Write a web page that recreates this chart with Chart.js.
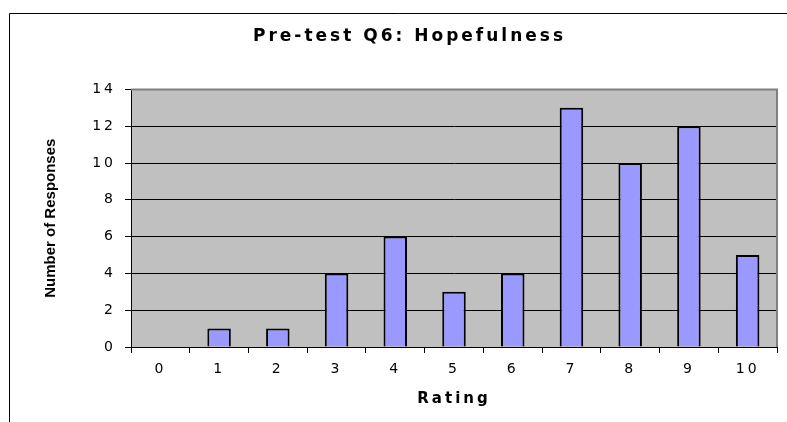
<!DOCTYPE html>
<html lang="en">
<head>
  <meta charset="UTF-8">
  <title>Pre-test Q6: Hopefulness</title>
  <style>
    html, body { margin: 0; padding: 0; background: #fff; }
    #wrap { width: 787px; height: 422px; }
  </style>
</head>
<body>
<div id="wrap">
  <canvas id="chart" width="787" height="422"></canvas>
</div>

<script src="https://cdn.jsdelivr.net/npm/chart.js"></script>

<script>
  const ratings = ['0', '1', '2', '3', '4', '5', '6', '7', '8', '9', '10'];
  const responses = [0, 1, 1, 4, 6, 3, 4, 13, 10, 12, 5];
  const yTicks = [0, 2, 4, 6, 8, 10, 12, 14];
  const yTitle = 'Number of Responses';

  // the source chart has wide lettering, so a wide face plus a little spacing
  const WIDE = '"DejaVu Sans", Verdana, sans-serif';
  const ARIAL = 'Arial, "Liberation Sans", sans-serif';
  const SPACING = '3px';

  // grey plot area, outer frame and the vertical axis title
  const frame = {
    id: 'frame',
    beforeDraw(chart) {
      const { ctx, chartArea: a } = chart;
      ctx.save();
      ctx.fillStyle = '#c0c0c0';
      ctx.fillRect(a.left, a.top, a.right - a.left, a.bottom - a.top);
      ctx.strokeStyle = '#000';
      ctx.lineWidth = 1;
      ctx.beginPath();
      ctx.moveTo(9.5, 422);
      ctx.lineTo(9.5, 13.5);
      ctx.lineTo(787, 13.5);
      ctx.stroke();
      ctx.restore();
      ctx.letterSpacing = SPACING;
    },
    afterDatasetsDraw(chart) {
      const { ctx, chartArea: a } = chart;
      ctx.save();
      ctx.strokeStyle = '#808080';
      ctx.lineWidth = 2;
      ctx.beginPath();
      ctx.moveTo(a.left, a.top);
      ctx.lineTo(a.right, a.top);
      ctx.lineTo(a.right, a.bottom);
      ctx.stroke();
      ctx.restore();
    },
    afterDraw(chart) {
      const { ctx, chartArea: a } = chart;
      ctx.save();
      ctx.letterSpacing = '0px';
      ctx.font = 'bold 15px ' + ARIAL;
      ctx.fillStyle = '#000';
      ctx.textAlign = 'center';
      ctx.textBaseline = 'middle';
      ctx.translate(51, (a.top + a.bottom) / 2);
      ctx.rotate(-Math.PI / 2);
      ctx.fillText(yTitle, 0, 0);
      ctx.restore();
    }
  };

  new Chart(document.getElementById('chart'), {
    type: 'bar',
    data: {
      labels: ratings,
      datasets: [{
        data: responses,
        backgroundColor: '#9999ff',
        borderColor: '#000',
        borderWidth: 2,
        categoryPercentage: 0.4,
        barPercentage: 1
      }]
    },
    options: {
      responsive: false,
      animation: false,
      devicePixelRatio: 1,
      layout: { padding: { left: 42, right: 10, top: 0, bottom: 0 } },
      plugins: {
        legend: { display: false },
        tooltip: { enabled: false },
        title: {
          display: true,
          text: 'Pre-test Q6: Hopefulness',
          color: '#000',
          font: { family: WIDE, size: 17, weight: 'bold' },
          padding: { top: 26, bottom: 43 }
        }
      },
      scales: {
        x: {
          offset: true,
          grid: { offset: true, drawOnChartArea: false, drawTicks: true, tickLength: 6, color: '#000' },
          border: { color: '#000', width: 1 },
          ticks: { color: '#000', font: { family: WIDE, size: 14 }, padding: 8, maxRotation: 0 },
          title: {
            display: true,
            text: 'Rating',
            color: '#000',
            font: { family: WIDE, size: 15, weight: 'bold' },
            padding: { top: 4, bottom: 14 }
          },
          afterFit(s) { s.height = 422 - 347; }
        },
        y: {
          min: 0,
          max: 14,
          afterBuildTicks(s) { s.ticks = yTicks.map(v => ({ value: v })); },
          grid: { color: '#000', tickLength: 6, drawTicks: true },
          border: { color: '#000', width: 1 },
          ticks: { color: '#000', font: { family: WIDE, size: 14 }, padding: 9 },
          afterFit(s) { s.width = 131 - 42; }
        }
      }
    },
    plugins: [frame]
  });
</script>
</body>
</html>
